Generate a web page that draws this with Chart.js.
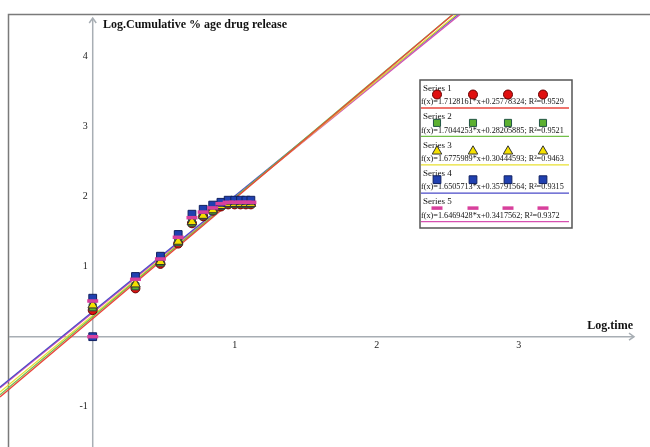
<!DOCTYPE html>
<html>
<head>
<meta charset="utf-8">
<script src="https://cdn.jsdelivr.net/npm/chart.js@4"></script>
<style>
  body { margin:0; background:#fff; }
  #wrap { width:650px; height:447px; }
</style>
</head>
<body>
<div id="wrap"><canvas id="chart" width="650" height="447"></canvas></div>
<script>
// Datos
const logTime = [0, 0.301, 0.477, 0.602, 0.699, 0.778, 0.845, 0.903, 0.954, 1.0, 1.041, 1.079, 1.114];
const series1 = [0.38, 0.69, 1.04, 1.33, 1.62, 1.72, 1.80, 1.86, 1.89, 1.89, 1.89, 1.89, 1.89];
const series2 = [0.42, 0.72, 1.06, 1.35, 1.63, 1.73, 1.80, 1.87, 1.90, 1.90, 1.90, 1.90, 1.90];
const series3 = [0.45, 0.75, 1.07, 1.36, 1.64, 1.73, 1.81, 1.87, 1.90, 1.90, 1.90, 1.90, 1.90];
const series4 = [0.55, 0.86, 1.15, 1.46, 1.75, 1.82, 1.88, 1.92, 1.95, 1.95, 1.95, 1.95, 1.95];
const series5 = [0.51, 0.82, 1.11, 1.42, 1.70, 1.78, 1.84, 1.90, 1.92, 1.92, 1.92, 1.92, 1.92];
const originPoint = {x:0, y:0}; // punto extra en el origen (series 4 y 5)

const seriesNames = ['Series 1','Series 2','Series 3','Series 4','Series 5'];
const slopes = [1.7128161, 1.7044253, 1.6775989, 1.6505713, 1.6469428];
const intercepts = [0.25778324, 0.28205885, 0.30444593, 0.35791564, 0.3417562];
const fitLabels = [
  'f(x)=1.7128161*x+0.25778324; R²=0.9529',
  'f(x)=1.7044253*x+0.28205885; R²=0.9521',
  'f(x)=1.6775989*x+0.30444593; R²=0.9463',
  'f(x)=1.6505713*x+0.35791564; R²=0.9315',
  'f(x)=1.6469428*x+0.3417562; R²=0.9372'
];
const xTicks = [1, 2, 3];
const yTicks = [4, 3, 2, 1, -1];

const X_MIN = -0.653, X_MAX = 3.925, Y_MIN = -1.576, Y_MAX = 4.81;

const lineColors = ['#e8463c', '#72c04a', '#e8e030', '#4a4ac8', '#d650b0'];
const fillColors = ['#e01010', '#5cb030', '#f4e000', '#2040b0', '#d8409c'];
const edgeColors = ['#600', '#254', '#333', '#102060', '#d8409c'];
const styles = ['circle', 'rect', 'triangle', 'rect', 'line'];
const radii = [4.5, 5, 5.5, 5.5, 5.5];

const allSeries = [series1, series2, series3, series4, series5];

const pts = (ys, extra) => {
  const arr = logTime.map((x,i)=>({x, y: ys[i]}));
  if (extra) arr.unshift(extra);
  return arr;
};

const datasets = [];
// Rectas de ajuste (cortadas en el marco superior)
allSeries.forEach((s,i)=>{
  datasets.push({
    type:'line',
    data:[{x:X_MIN, y:slopes[i]*X_MIN+intercepts[i]}, {x:X_MAX, y:slopes[i]*X_MAX+intercepts[i]}],
    borderColor: lineColors[i],
    borderWidth: 1.3,
    pointRadius: 0,
    clip: {left:0, top:-15, right:0, bottom:0},
    order: 20 + i
  });
});
// Puntos
allSeries.forEach((s,i)=>{
  datasets.push({
    type:'scatter',
    data: pts(s, i >= 3 ? originPoint : null),
    pointStyle: styles[i],
    pointRadius: radii[i],
    backgroundColor: fillColors[i],
    borderColor: edgeColors[i],
    borderWidth: i === 4 ? 3.5 : 1,
    order: 10 - i
  });
});

const serif = '"Liberation Serif", "Times New Roman", serif';

const axesPlugin = {
  id:'axes',
  // marco, ejes, ticks y titulos
  beforeDatasetsDraw(chart){
    const {ctx, scales:{x, y}} = chart;
    const x0 = x.getPixelForValue(0), y0 = y.getPixelForValue(0);
    ctx.save();
    ctx.strokeStyle = '#7a7a7a';
    ctx.lineWidth = 1.5;
    ctx.beginPath();
    ctx.moveTo(8.5, 447); ctx.lineTo(8.5, 14.5); ctx.lineTo(650, 14.5);
    ctx.stroke();

    ctx.strokeStyle = '#a8aeb4';
    ctx.lineWidth = 1.5;
    ctx.beginPath();
    ctx.moveTo(x0, 447); ctx.lineTo(x0, 19);
    ctx.moveTo(9, y0); ctx.lineTo(634, y0);
    ctx.stroke();
    ctx.beginPath();
    ctx.moveTo(x0-3.5, 23); ctx.lineTo(x0, 18); ctx.lineTo(x0+3.5, 23);
    ctx.moveTo(629, y0-3.5); ctx.lineTo(634, y0); ctx.lineTo(629, y0+3.5);
    ctx.stroke();

    ctx.fillStyle = '#222';
    ctx.font = '10px ' + serif;
    ctx.textAlign = 'right'; ctx.textBaseline = 'middle';
    yTicks.forEach(v=>ctx.fillText(String(v), x0 - 5, y.getPixelForValue(v)));
    ctx.textAlign = 'center';
    xTicks.forEach(v=>ctx.fillText(String(v), x.getPixelForValue(v), y0 + 9));

    ctx.fillStyle = '#111';
    ctx.font = 'bold 12px ' + serif;
    ctx.textAlign = 'left';
    ctx.fillText('Log.Cumulative % age drug release', 103, 25);
    ctx.textAlign = 'right';
    ctx.fillText('Log.time', 633, 326);
    ctx.restore();
  },
  // leyenda con las ecuaciones
  afterDraw(chart){
    const ctx = chart.ctx;
    const bx = 420, by = 80, bw = 152, bh = 148, rowH = 28.4;
    ctx.save();
    ctx.fillStyle = '#fff';
    ctx.fillRect(bx, by, bw, bh);
    ctx.strokeStyle = '#555';
    ctx.lineWidth = 1.5;
    ctx.strokeRect(bx, by, bw, bh);
    const mx = [437, 473, 508, 543];
    seriesNames.forEach((name,i)=>{
      const top = by + i*rowH;
      ctx.fillStyle = '#111';
      ctx.font = '9px ' + serif;
      ctx.textAlign = 'left'; ctx.textBaseline = 'middle';
      ctx.fillText(name, bx + 3, top + 8.5);
      ctx.font = '8.2px ' + serif;
      ctx.fillText(fitLabels[i], bx + 1, top + 22);
      mx.forEach(px=>{
        ctx.fillStyle = fillColors[i];
        ctx.strokeStyle = edgeColors[i];
        ctx.lineWidth = i===4 ? 3.5 : 1;
        Chart.helpers.drawPoint(ctx, {pointStyle: styles[i], radius: radii[i], rotation: 0, borderWidth: ctx.lineWidth}, px, top + 14.5);
      });
      ctx.strokeStyle = lineColors[i];
      ctx.lineWidth = 1.3;
      ctx.beginPath();
      ctx.moveTo(bx + 1, top + 28); ctx.lineTo(bx + bw - 3, top + 28);
      ctx.stroke();
    });
    ctx.restore();
  }
};

new Chart(document.getElementById('chart'), {
  type:'scatter',
  data:{ datasets },
  options:{
    responsive:false,
    animation:false,
    layout:{ padding:0, autoPadding:false },
    plugins:{ legend:{display:false}, tooltip:{enabled:false} },
    scales:{
      x:{ type:'linear', min:X_MIN, max:X_MAX, display:false },
      y:{ type:'linear', min:Y_MIN, max:Y_MAX, display:false }
    }
  },
  plugins:[axesPlugin]
});
</script>
</body>
</html>
